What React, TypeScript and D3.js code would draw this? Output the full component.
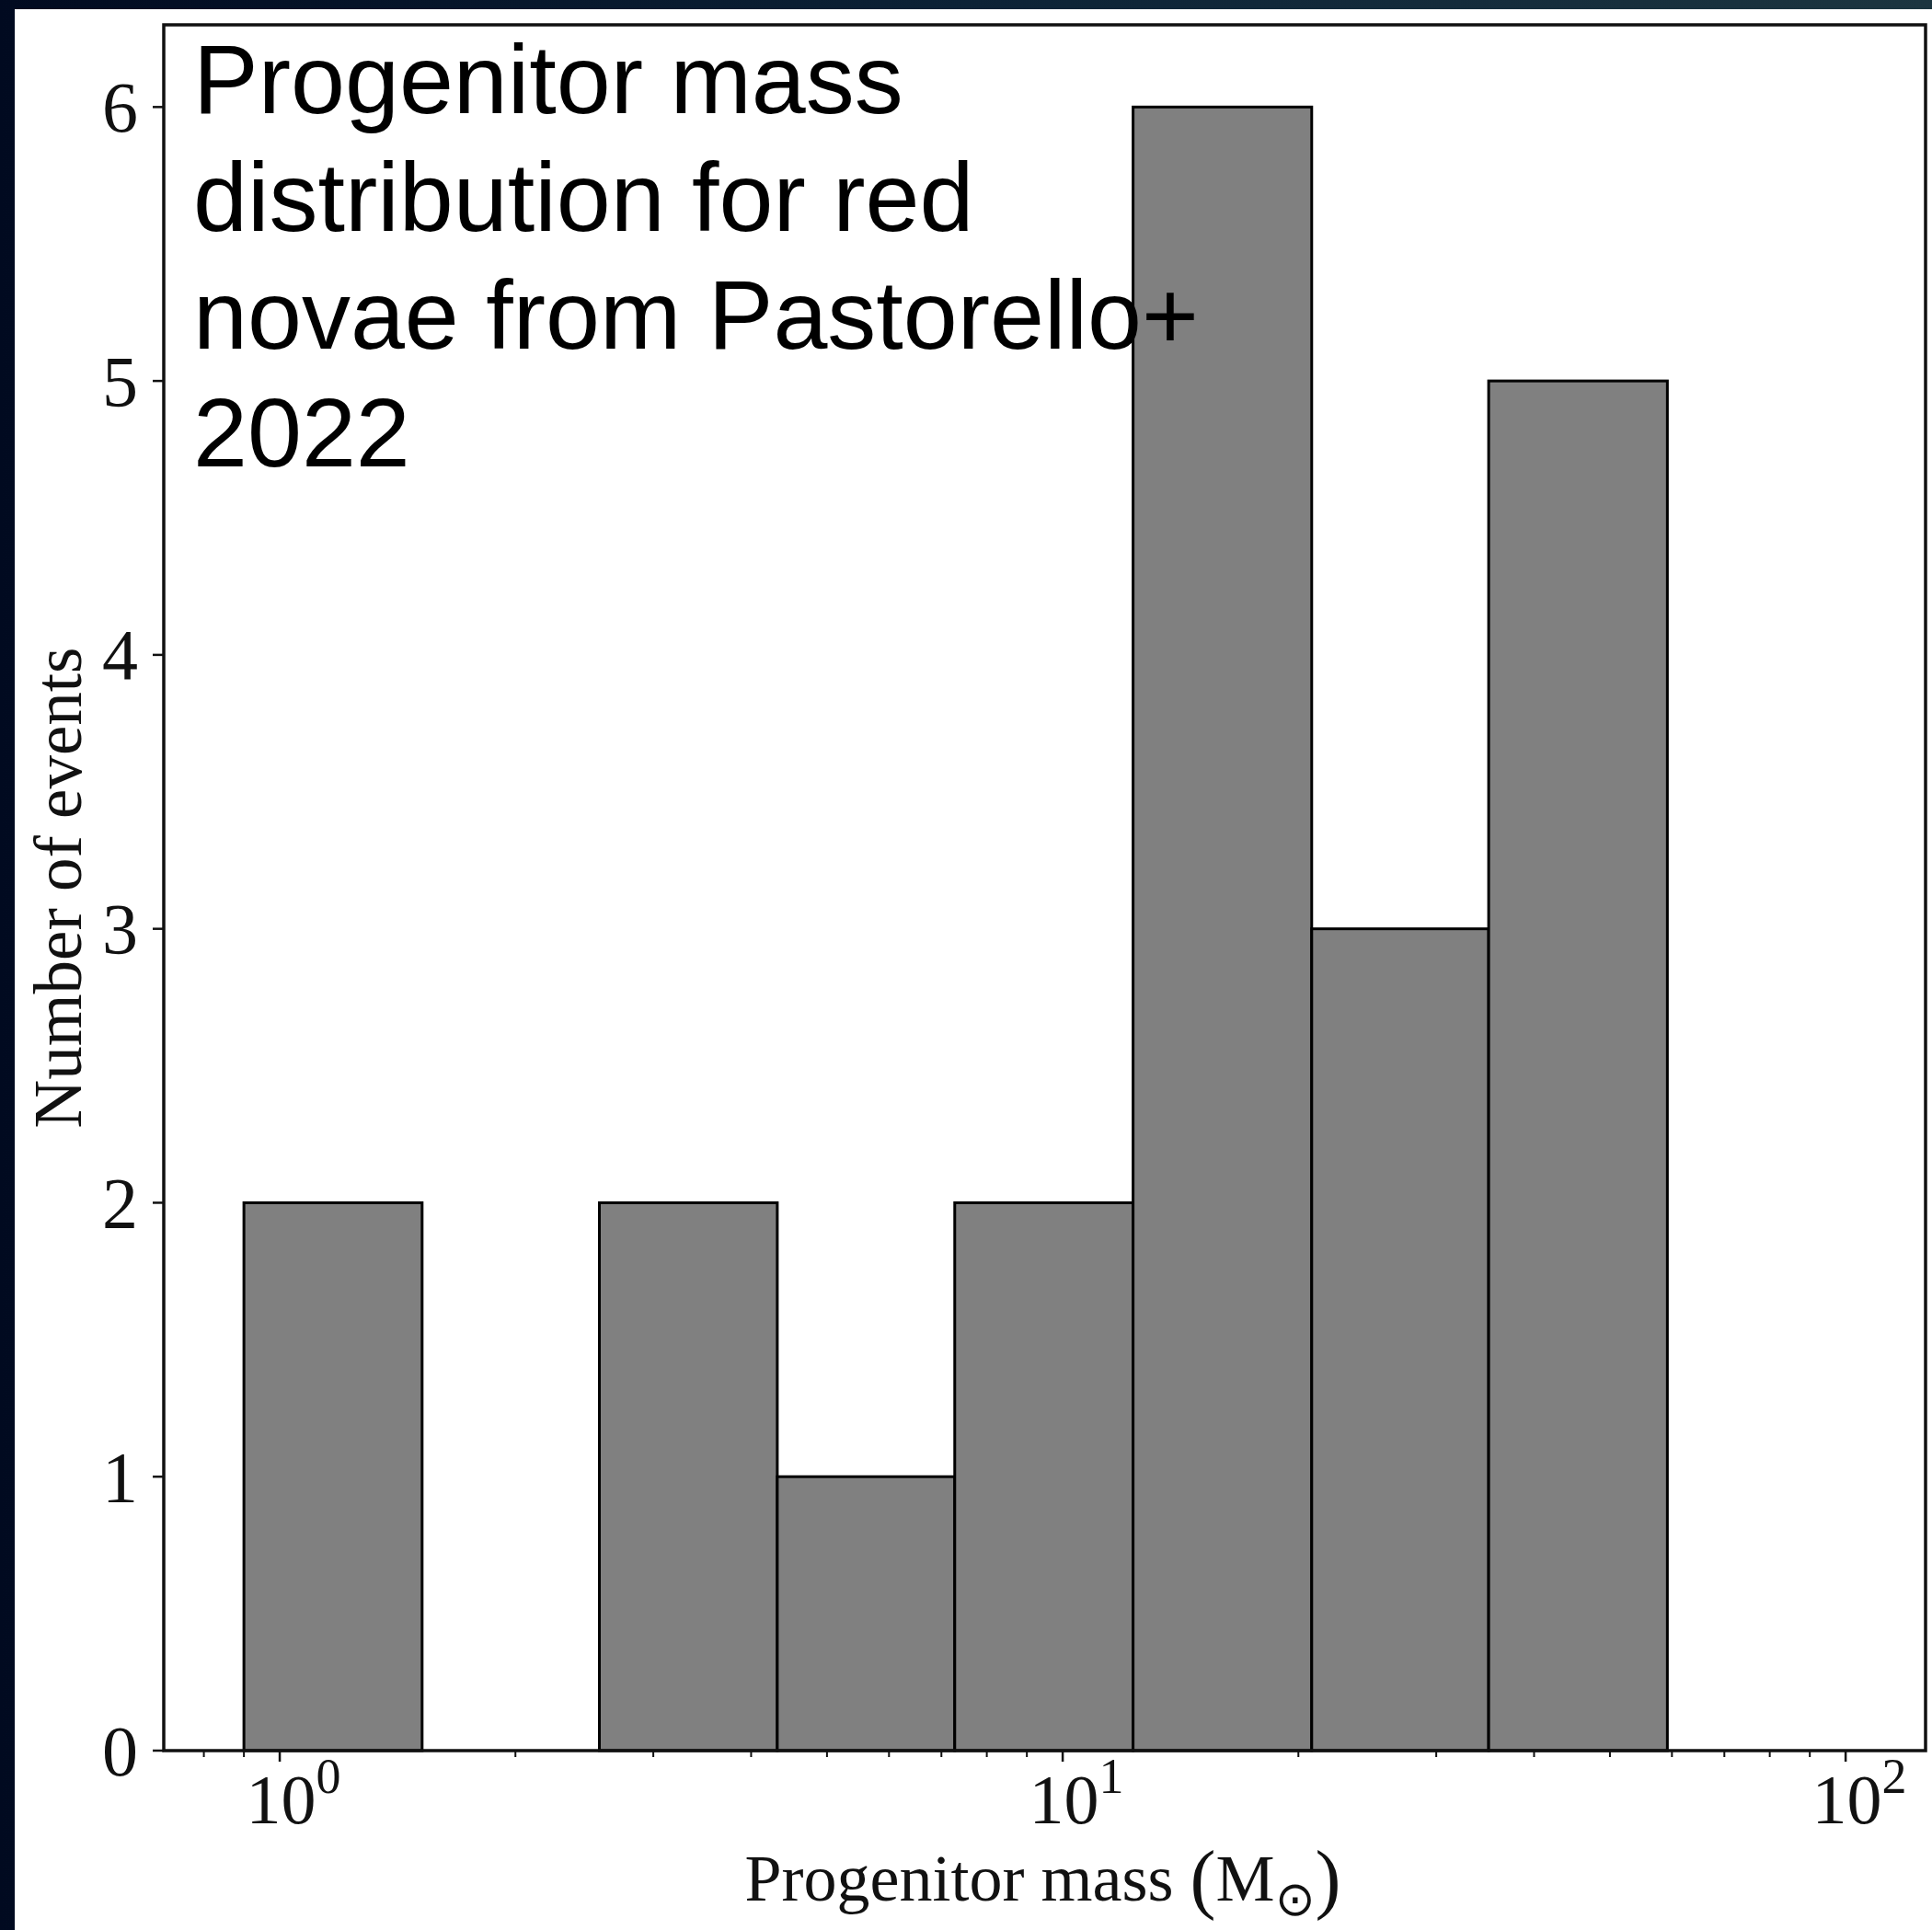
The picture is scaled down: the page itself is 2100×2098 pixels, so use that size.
import React from "react";
import * as d3 from "d3";

const binEdges = [0.9, 1.52, 2.56, 4.32, 7.28, 12.3, 20.8, 35.0, 59.2];
const counts = [2, 0, 2, 1, 2, 6, 3, 5];
const yTicks = [0, 1, 2, 3, 4, 5, 6];
const xMajor = [1, 10, 100];
const xMajorExp = ["0", "1", "2"];
const xMinor = [0.8, 0.9, 2, 3, 4, 5, 6, 7, 8, 9, 20, 30, 40, 50, 60, 70, 80, 90];
const titleLines = ["Progenitor mass", "distribution for red", "novae from Pastorello+", "2022"];

const W = 2100;
const H = 2098;
const L = 178, R = 2093, T = 27, B = 1903;

export default function App() {
  const x = d3.scaleLog().domain([0.711, 126.5]).range([L, R]);
  const y = d3.scaleLinear().domain([0, 6.3]).range([B, T]);
  const serif = "'Liberation Serif', 'Times New Roman', serif";
  const sans = "'Liberation Sans', Arial, sans-serif";
  const bars = counts.map((c, i) => ({ x0: binEdges[i], x1: binEdges[i + 1], c }));
  return (
    <svg width={W} height={H} style={{ position: "absolute", left: 0, top: 0, display: "block" }}>
      <defs>
        <linearGradient id="bg" x1="0" y1="0" x2="1" y2="0">
          <stop offset="0" stopColor="#010a20" />
          <stop offset="0.5" stopColor="#0c2236" />
          <stop offset="1" stopColor="#1c3540" />
        </linearGradient>
      </defs>
      <rect x={0} y={0} width={W} height={H} fill="url(#bg)" />
      <rect x={16} y={10} width={W - 16} height={H - 10} fill="#ffffff" />
      {bars.filter(b => b.c > 0).map((b, i) => (
        <rect key={i} x={x(b.x0)} y={y(b.c)} width={x(b.x1) - x(b.x0)} height={y(0) - y(b.c)}
          fill="#808080" stroke="#000" strokeWidth={3} />
      ))}
      <rect x={L} y={T} width={R - L} height={B - T} fill="none" stroke="#111" strokeWidth={3.5} />
      {yTicks.map(t => (
        <g key={t}>
          <line x1={L - 12} x2={L} y1={y(t)} y2={y(t)} stroke="#111" strokeWidth={2.5} />
          <text x={150} y={y(t)} dy="0.34em" textAnchor="end" fontFamily={serif} fontSize={78} fill="#111">{t}</text>
        </g>
      ))}
      {xMajor.map((t, i) => (
        <g key={t}>
          <line x1={x(t)} x2={x(t)} y1={B} y2={B + 12} stroke="#111" strokeWidth={2.5} />
          <text x={x(t) + 15} y={1982} textAnchor="middle" fontFamily={serif} fontSize={76} fill="#111">
            10<tspan dy={-33} fontSize={54}>{xMajorExp[i]}</tspan>
          </text>
        </g>
      ))}
      {xMinor.map(t => (
        <line key={t} x1={x(t)} x2={x(t)} y1={B} y2={B + 7} stroke="#111" strokeWidth={2} />
      ))}
      <text x={(L + R) / 2 - 2} y={2066} textAnchor="middle" fontFamily={serif} fontSize={72} fill="#111">
        Progenitor mass <tspan fontSize={84} dy={4}>(</tspan><tspan dy={-4}>M</tspan><tspan fontSize={52} dy={16}>⊙</tspan><tspan fontSize={84} dy={-12}>)</tspan>
      </text>
      <text transform={`translate(88, ${(T + B) / 2}) rotate(-90)`} textAnchor="middle" fontFamily={serif} fontSize={73} fill="#111">
        Number of events
      </text>
      {titleLines.map((s, i) => (
        <text key={i} x={210} y={123 + i * 128} fontFamily={sans} fontSize={106} fill="#000">{s}</text>
      ))}
    </svg>
  );
}
